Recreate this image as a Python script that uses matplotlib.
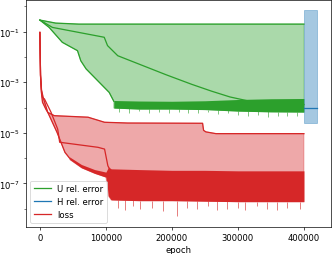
import matplotlib
matplotlib.use('Agg')
import matplotlib.pyplot as plt
import numpy as np

# values, stored as log10 of the plotted quantity
# U rel. error
u_ep_max = [0, 24000, 59000, 400000]
u_max_log = [-0.54, -0.66, -0.70, -0.70]
u_ep_mean = [0, 19000, 97500, 102500, 118000, 191000, 230000, 260000, 288000, 318000, 360000, 400000]
u_mean_log = [-0.54, -0.83, -1.22, -1.55, -1.95, -2.70, -3.08, -3.35, -3.58, -3.75, -3.85, -3.88]
u_ep_min = [0, 14000, 34000, 57000, 62000, 70000, 105000, 112000]
u_min_log = [-0.54, -0.83, -1.42, -1.75, -2.15, -2.47, -3.40, -3.75]
u_ep_noise = [112000, 150000, 200000, 250000, 300000, 350000, 400000]
u_noise_hi = [-3.72, -3.74, -3.75, -3.73, -3.68, -3.65, -3.64]
u_noise_lo = [-4.02, -4.06, -4.06, -4.08, -4.14, -4.17, -4.18]
u_spike_ep = [120000, 135000, 150000, 165000, 180000, 195000, 210000, 225000, 240000, 255000,
              270000, 285000, 300000, 315000, 330000, 345000, 360000, 375000, 390000]
u_spike_log = [-4.18, -4.20, -4.15, -4.22, -4.18, -4.20, -4.17, -4.22, -4.20, -4.18,
               -4.25, -4.22, -4.30, -4.35, -4.30, -4.38, -4.32, -4.35, -4.33]

# H rel. error
h_ep = [400000, 420000]
h_max_log = [-0.14, -0.14]
h_mean_log = [-4.02, -4.02]
h_min_log = [-4.62, -4.62]

# loss
l_ep_max = [0, 1000, 2500, 5000, 12000, 22000, 73000, 98000, 133000, 246500, 248000, 251500, 266700, 400000]
l_max_log = [-1.03, -2.70, -3.30, -3.60, -4.19, -4.32, -4.38, -4.58, -4.61, -4.62, -4.90, -4.96, -5.03, -5.03]
l_ep_mean = [0, 1000, 2500, 4000, 7000, 17000, 27000, 30000, 88000, 98000, 103000, 106000]
l_mean_log = [-1.03, -2.72, -3.40, -3.60, -3.66, -4.19, -4.85, -5.37, -5.57, -5.64, -6.30, -6.45]
l_ep_min = [0, 1000, 2500, 4000, 9000, 12000, 26000, 38000, 45000]
l_min_log = [-1.03, -2.75, -3.45, -3.79, -4.06, -4.19, -4.98, -5.77, -6.00]
l_ep_noise = [45000, 63000, 83000, 100000, 104000, 108000, 150000, 200000, 250000, 300000, 350000, 400000]
l_noise_hi = [-5.95, -6.25, -6.45, -6.55, -6.35, -6.42, -6.45, -6.48, -6.48, -6.50, -6.50, -6.50]
l_noise_lo = [-6.05, -6.38, -6.60, -6.75, -7.50, -7.65, -7.68, -7.68, -7.70, -7.72, -7.72, -7.72]
l_spike_ep = [118000, 129000, 141000, 151500, 170000, 186000, 207500, 222700, 238000, 254500,
              268000, 283000, 300000, 310600, 328800, 344000, 359000, 374000, 394000]
l_spike_log = [-7.95, -8.05, -7.90, -8.00, -7.95, -8.10, -8.30, -7.95, -8.00, -7.90,
               -8.05, -8.00, -7.95, -8.05, -7.90, -8.00, -8.05, -7.95, -8.00]

s = 0.61  # the reference looks like a default figure drawn at ~61 dpi
plt.rcParams.update({
    'font.size': 10 * s,
    'lines.linewidth': 1.5 * s,
    'axes.linewidth': 0.8 * s,
    'patch.linewidth': 1.0 * s,
    'xtick.major.size': 3.5 * s, 'ytick.major.size': 3.5 * s,
    'xtick.minor.size': 2 * s, 'ytick.minor.size': 2 * s,
    'xtick.major.width': 0.8 * s, 'ytick.major.width': 0.8 * s,
    'xtick.minor.width': 0.6 * s, 'ytick.minor.width': 0.6 * s,
    'xtick.major.pad': 3.5 * s, 'ytick.major.pad': 3.5 * s,
})

green, blue, red = '#2ca02c', '#1f77b4', '#d62728'


def p(v):
    return 10.0 ** np.array(v)


def lows_at(ep_list, band_ep, band_lo):
    # bottom of the dense band at each spike epoch (band points are read values)
    return p([band_lo[max(i for i, e in enumerate(band_ep) if e <= x)] for x in ep_list])


fig, ax = plt.subplots(figsize=(3.32, 2.55), dpi=100)
fig.subplots_adjust(left=26 / 332, right=331 / 332, bottom=1 - 228 / 255, top=1 - 1 / 255)

# U rel. error
ax.fill(u_ep_max + u_ep_noise[::-1] + u_ep_min[::-1],
        np.concatenate([p(u_max_log), p(u_noise_lo)[::-1], p(u_min_log)[::-1]]),
        color=green, alpha=0.4)
ax.plot(u_ep_max, p(u_max_log), color=green)
ax.plot(u_ep_min, p(u_min_log), color=green)
ax.fill_between(u_ep_noise, p(u_noise_lo), p(u_noise_hi), color=green, lw=0)
ax.vlines(u_spike_ep, p(u_spike_log), lows_at(u_spike_ep, u_ep_noise, u_noise_lo),
          color=green, lw=0.6, alpha=0.7)
ax.plot(u_ep_mean, p(u_mean_log), color=green, label='U rel. error')

# H rel. error
ax.fill_between(h_ep, p(h_min_log), p(h_max_log), color=blue, alpha=0.4)
ax.plot(h_ep, p(h_mean_log), color=blue, label='H rel. error')

# loss
ax.fill(l_ep_max + l_ep_noise[::-1] + l_ep_min[::-1],
        np.concatenate([p(l_max_log), p(l_noise_lo)[::-1], p(l_min_log)[::-1]]),
        color=red, alpha=0.4)
ax.plot(l_ep_max, p(l_max_log), color=red)
ax.plot(l_ep_min, p(l_min_log), color=red)
ax.fill_between(l_ep_noise, p(l_noise_lo), p(l_noise_hi), color=red, lw=0)
ax.vlines(l_spike_ep, p(l_spike_log), lows_at(l_spike_ep, l_ep_noise, l_noise_lo),
          color=red, lw=0.6, alpha=0.7)
ax.plot(l_ep_mean, p(l_mean_log), color=red, label='loss')

ax.set_yscale('log')
ax.set_xlim(-21000, 441000)
ax.set_ylim(10 ** -8.72, 10 ** 0.253)
ax.set_yticks([1e-1, 1e-3, 1e-5, 1e-7])
ax.set_yticks([1e0, 1e-2, 1e-4, 1e-6, 1e-8], minor=True)
ax.yaxis.set_minor_formatter(matplotlib.ticker.NullFormatter())
ax.set_xticks([0, 100000, 200000, 300000, 400000])
ax.set_xlabel('epoch', labelpad=4 * s)
ax.legend(loc='lower left')

fig.savefig('out.png', dpi=100)
